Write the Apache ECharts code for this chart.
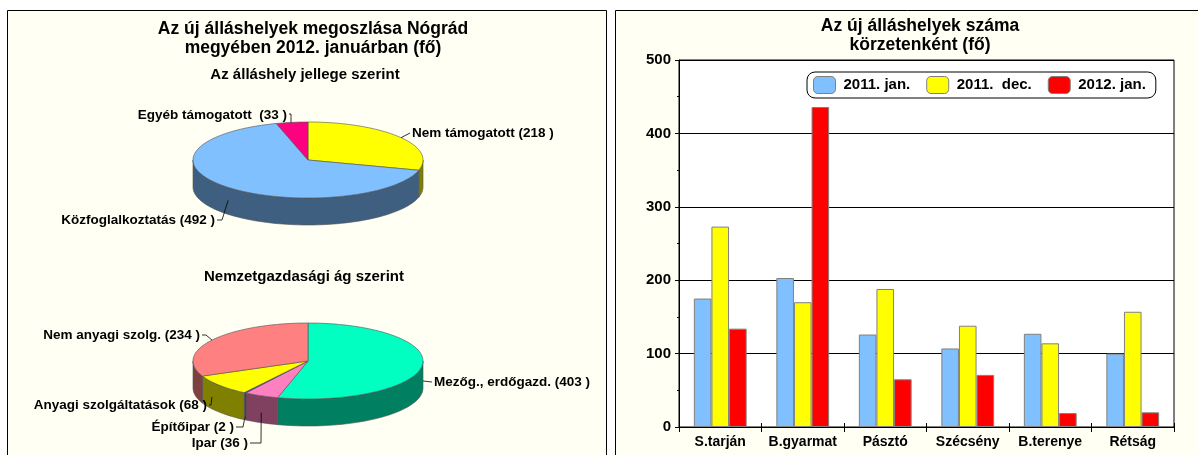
<!DOCTYPE html>
<html><head><meta charset="utf-8">
<script src="https://cdn.jsdelivr.net/npm/echarts@6/dist/echarts.min.js"></script>
<style>html,body{margin:0;padding:0;background:#fff}#c{width:1198px;height:455px}</style>
</head><body><div id="c"></div>
<script>
// ---------- DATA ----------
const regions = ['S.tarján', 'B.gyarmat', 'Pásztó', 'Szécsény', 'B.terenye', 'Rétság'];
const seriesNames = ['2011. jan.', '2011.  dec.', '2012. jan.'];
const jan2011 = [175, 203, 126, 107, 127, 100];
const dec2011 = [273, 170, 188, 138, 114, 157];
const jan2012 = [134, 436, 65, 71, 19, 20];
const yTicks = [0, 100, 200, 300, 400, 500];

const jellegNames = ['Nem támogatott', 'Közfoglalkoztatás', 'Egyéb támogatott '];
const jellegValues = [218, 492, 33];
const agNames = ['Mezőg., erdőgazd.', 'Ipar', 'Építőipar', 'Anyagi szolgáltatások', 'Nem anyagi szolg.'];
const agValues = [403, 36, 2, 68, 234];

// ---------- STYLE / LAYOUT ----------
const FONT = '"Liberation Sans", Arial, sans-serif';
const CREAM = '#FFFFF3';
const jellegColors = ['#FFFF00', '#80C0FF', '#FF0080'];
const jellegSides = ['#808000', '#3F5F80', '#800040'];
const agColors = ['#00FFC0', '#FF80C0', '#4040FF', '#FFFF00', '#FF8080'];
const agSides = ['#008060', '#804060', '#202080', '#808000', '#804040'];

const pie1Geom = { cx: 308, cy: 160, rx: 115, ry: 38, depth: 27 };
const pie2Geom = { cx: 308, cy: 361, rx: 115, ry: 38, depth: 27 };
// label layout: anchor angle (deg clockwise from top), wall offset, elbow points, text pos, align
const pie1Labels = [
  { ang: 54, dy: 0, elbow: [[410, 133]], tx: 412, ty: 133, align: 'left' },
  { ang: 224, dy: 13, elbow: [[222, 220], [217, 220]], tx: 215, ty: 220, align: 'right' },
  { ang: 351.5, dy: 0, elbow: [[291, 114], [289, 114]], tx: 287, ty: 115, align: 'right' }
];
const pie2Labels = [
  { ang: 90, dy: 20, elbow: [[432, 382]], tx: 434, ty: 382, align: 'left' },
  { ang: 204, dy: 17, elbow: [[261, 443], [250, 443]], tx: 248, ty: 443, align: 'right' },
  { ang: 213.2, dy: 24, elbow: [[243, 427], [236, 427]], tx: 234, ty: 427, align: 'right' },
  { ang: 236.6, dy: 15, elbow: [[211, 405], [209, 405]], tx: 207, ty: 405, align: 'right' },
  { ang: 303.4, dy: 0, elbow: [[206, 335], [202, 335]], tx: 200, ty: 335, align: 'right' }
];

function pie3d(names, values, colors, sides, g, labels) {
  const total = values.reduce((a, b) => a + b, 0);
  const starts = [];
  let acc = 0;
  values.forEach(v => { starts.push(acc / total * 360); acc += v; });
  const pt = (deg, dy) => {
    const r = deg * Math.PI / 180;
    return [g.cx + g.rx * Math.sin(r), g.cy - g.ry * Math.cos(r) + (dy || 0)];
  };
  const arc = (a0, a1, dy) => {
    const n = Math.max(2, Math.ceil(Math.abs(a1 - a0) / 2));
    const out = [];
    for (let k = 0; k <= n; k++) out.push(pt(a0 + (a1 - a0) * k / n, dy));
    return out;
  };
  return {
    type: 'custom',
    coordinateSystem: 'none',
    silent: true,
    data: values,
    renderItem(params, api) {
      const i = params.dataIndex;
      const v = api.value(0);
      const a0 = starts[i], a1 = a0 + v / total * 360;
      const children = [];
      const w0 = Math.max(a0, 90), w1 = Math.min(a1, 270);
      if (w1 > w0) {
        const pts = arc(w0, w1, 0).concat(arc(w1, w0, g.depth));
        children.push({ type: 'polygon', shape: { points: pts },
          style: { fill: sides[i], stroke: '#505050', lineWidth: 0.6 } });
      }
      const top = [[g.cx, g.cy]].concat(arc(a0, a1, 0));
      children.push({ type: 'polygon', shape: { points: top },
        style: { fill: colors[i], stroke: '#505050', lineWidth: 0.6 } });
      const L = labels[i];
      const anchor = pt(L.ang, L.dy);
      children.push({ type: 'polyline', shape: { points: [anchor].concat(L.elbow) },
        style: { stroke: '#000', lineWidth: 0.8, fill: null } });
      children.push({ type: 'text', x: L.tx, y: L.ty,
        style: { text: names[i] + ' (' + v + ' )', align: L.align, verticalAlign: 'middle',
          font: 'bold 13.5px ' + FONT, fill: '#000' } });
      return { type: 'group', children };
    }
  };
}

const chart = echarts.init(document.getElementById('c'), null, { renderer: 'canvas' });
const barStyle = c => ({ color: c, borderColor: '#808080', borderWidth: 1 });

chart.setOption({
  animation: false,
  backgroundColor: '#ffffff',
  graphic: [
    { type: 'rect', z: -10, shape: { x: 7.5, y: 10.5, width: 599, height: 460 },
      style: { fill: CREAM, stroke: '#000', lineWidth: 1 } },
    { type: 'rect', z: -10, shape: { x: 615.5, y: 10.5, width: 600, height: 460 },
      style: { fill: CREAM, stroke: '#000', lineWidth: 1 } },
    { type: 'text', x: 313, y: 29, style: { text: 'Az új álláshelyek megoszlása Nógrád', align: 'center', verticalAlign: 'middle', font: 'bold 17.5px ' + FONT, fill: '#000' } },
    { type: 'text', x: 313, y: 48, style: { text: 'megyében 2012. januárban (fő)', align: 'center', verticalAlign: 'middle', font: 'bold 17.5px ' + FONT, fill: '#000' } },
    { type: 'text', x: 305, y: 75, style: { text: 'Az álláshely jellege szerint', align: 'center', verticalAlign: 'middle', font: 'bold 15px ' + FONT, fill: '#000' } },
    { type: 'text', x: 304, y: 277, style: { text: 'Nemzetgazdasági ág szerint', align: 'center', verticalAlign: 'middle', font: 'bold 15px ' + FONT, fill: '#000' } },
    { type: 'text', x: 920, y: 26, style: { text: 'Az új álláshelyek száma', align: 'center', verticalAlign: 'middle', font: 'bold 17.5px ' + FONT, fill: '#000' } },
    { type: 'text', x: 920, y: 45, style: { text: 'körzetenként (fő)', align: 'center', verticalAlign: 'middle', font: 'bold 17.5px ' + FONT, fill: '#000' } }
  ],
  grid: { left: 679, right: 24, top: 60, bottom: 28, show: true, backgroundColor: '#fff', borderColor: '#000', borderWidth: 1 },
  legend: {
    left: 807, top: 72, itemWidth: 22, itemHeight: 17, itemGap: 16,
    borderColor: '#000', borderWidth: 1, borderRadius: 8, padding: [4, 10, 4, 6],
    backgroundColor: '#fff',
    itemStyle: { borderColor: '#808080', borderWidth: 1 },
    textStyle: { fontFamily: FONT, fontWeight: 'bold', fontSize: 15, color: '#000', padding: [0, 0, 0, 3] },
    data: seriesNames
  },
  xAxis: [{
    type: 'category', data: regions,
    axisLine: { lineStyle: { color: '#000', width: 1 } },
    axisTick: { show: true, length: 5, lineStyle: { color: '#000' } },
    axisLabel: { interval: 0, fontFamily: FONT, fontWeight: 'bold', fontSize: 14, color: '#000', margin: 8 }
  }, {
    type: 'category', data: regions, position: 'bottom',
    axisLine: { show: false },
    axisTick: { show: true, inside: true, length: 4, lineStyle: { color: '#000' } },
    axisLabel: { show: false }
  }],
  yAxis: {
    type: 'value', min: yTicks[0], max: yTicks[yTicks.length - 1], interval: 100,
    axisLine: { show: true, lineStyle: { color: '#000' } },
    axisTick: { show: true, length: 4, lineStyle: { color: '#000' } },
    minorTick: { show: true, splitNumber: 2, length: 2, lineStyle: { color: '#000' } },
    splitLine: { show: true, lineStyle: { color: '#000', width: 1 } },
    axisLabel: { fontFamily: FONT, fontWeight: 'bold', fontSize: 15, color: '#000', margin: 8 }
  },
  series: [
    { name: seriesNames[0], type: 'bar', data: jan2011, itemStyle: barStyle('#80C0FF'), barGap: '0%', barCategoryGap: '36%' },
    { name: seriesNames[1], type: 'bar', data: dec2011, itemStyle: barStyle('#FFFF00'), barGap: '0%', barCategoryGap: '36%' },
    { name: seriesNames[2], type: 'bar', data: jan2012, itemStyle: barStyle('#FF0000'), barGap: '0%', barCategoryGap: '36%' },
    pie3d(jellegNames, jellegValues, jellegColors, jellegSides, pie1Geom, pie1Labels),
    pie3d(agNames, agValues, agColors, agSides, pie2Geom, pie2Labels)
  ]
});
</script>
</body></html>
